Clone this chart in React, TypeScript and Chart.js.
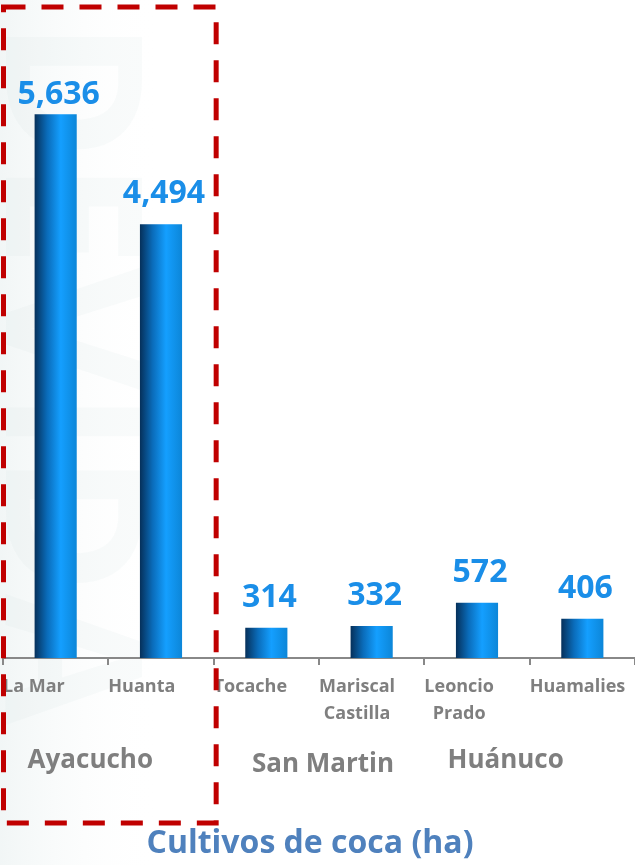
import React, { useEffect, useRef } from "react";
import { Chart, registerables } from "chart.js";

Chart.register(...registerables);

const categories: string[][] = [["La Mar"], ["Huanta"], ["Tocache"], ["Mariscal", "Castilla"], ["Leoncio", "Prado"], ["Huamalies"]];
const values: number[] = [5636, 4494, 314, 332, 572, 406];
const groupNames: string[] = ["Ayacucho", "San Martin", "Huánuco"];
const groupSpans: number[][] = [[0, 1], [2, 3], [4, 5]];
const chartTitle = "Cultivos de coca (ha)";
const yMax = 6000;

const FONT = "'Open Sans', 'Noto Sans', sans-serif";
const GRAY = "#7f7f7f";
const LABEL_BLUE = "#1a8ee8";
const TITLE_BLUE = "#4f81bd";

const decorPlugin = {
  id: "decor",
  beforeDraw(chart: any) {
    const ctx = chart.ctx;
    ctx.save();
    ctx.fillStyle = "#ffffff";
    ctx.fillRect(0, 0, chart.width, chart.height);
    // faint watermark
    const g = ctx.createLinearGradient(0, 0, 160, 0);
    g.addColorStop(0, "rgba(228,237,237,0.5)");
    g.addColorStop(1, "rgba(255,255,255,0)");
    ctx.fillStyle = g;
    ctx.fillRect(0, 0, 170, chart.height);
    ctx.translate(60, 20);
    ctx.rotate(Math.PI / 2);
    ctx.font = `bold 190px ${FONT}`;
    ctx.fillStyle = "rgba(205,222,222,0.12)";
    ctx.textBaseline = "middle";
    ctx.fillText("DEVIDA", 0, 0);
    ctx.restore();
  },
  afterDraw(chart: any) {
    const ctx = chart.ctx;
    const x = chart.scales.x;
    const area = chart.chartArea;
    const catW = (area.right - area.left) / categories.length;
    ctx.save();
    // category labels: centered blocks whose left edge sits at category boundary
    ctx.font = `bold 18px ${FONT}`;
    ctx.fillStyle = GRAY;
    ctx.textAlign = "center";
    ctx.textBaseline = "alphabetic";
    categories.forEach((lines, i) => {
      const left = x.getPixelForValue(i) - catW / 2;
      const w = Math.max(...lines.map((l) => ctx.measureText(l).width));
      const cx = Math.min(left + w / 2, chart.width - w / 2 - 8);
      lines.forEach((l, k) => ctx.fillText(l, cx, area.bottom + 34 + k * 27));
    });
    // group labels
    const offs = [-18, 4, -24];
    ctx.font = `bold 26px ${FONT}`;
    groupNames.forEach((name, gi) => {
      const [a, b] = groupSpans[gi];
      const cx = (x.getPixelForValue(a) + x.getPixelForValue(b)) / 2 + offs[gi];
      ctx.fillText(name, cx, area.bottom + 110 + (gi === 1 ? 4 : 0));
    });
    // value labels
    const meta = chart.getDatasetMeta(0);
    ctx.font = `bold 32px ${FONT}`;
    ctx.fillStyle = LABEL_BLUE;
    meta.data.forEach((bar: any, i: number) => {
      const y = Math.max(bar.y - 21, 104);
      ctx.fillText(values[i].toLocaleString("en-US"), bar.x + 3, y);
    });
    // title
    ctx.font = `bold 32px ${FONT}`;
    ctx.fillStyle = TITLE_BLUE;
    ctx.fillText(chartTitle, 310, 853);
    // red dashed box around the first group
    const l0 = x.getPixelForValue(groupSpans[0][0]) - catW / 2;
    const r0 = x.getPixelForValue(groupSpans[0][1]) + catW / 2;
    ctx.strokeStyle = "#c00000";
    ctx.lineWidth = 5;
    ctx.setLineDash([22, 16]);
    ctx.strokeRect(l0 + 0.5, 7, r0 - l0 + 2, 816);
    ctx.restore();
  },
};

export default function App() {
  const ref = useRef<HTMLCanvasElement | null>(null);
  useEffect(() => {
    if (!ref.current) return;
    const chart = new Chart(ref.current, {
      type: "bar",
      data: {
        labels: categories.map((c) => c.join(" ")),
        datasets: [
          {
            data: values,
            barPercentage: 0.4,
            categoryPercentage: 1,
            backgroundColor: (c: any) => {
              const ch = c.chart;
              const area = ch.chartArea;
              if (!area || !ch.scales.x) return "#1090e0";
              const catW = (area.right - area.left) / categories.length;
              const w = catW * 0.4;
              const cx = ch.scales.x.getPixelForValue(c.dataIndex);
              const g = ch.ctx.createLinearGradient(cx - w / 2, 0, cx + w / 2, 0);
              g.addColorStop(0, "#06305a");
              g.addColorStop(0.3, "#0a6cba");
              g.addColorStop(0.62, "#149fff");
              g.addColorStop(1, "#0c86d8");
              return g;
            },
            borderWidth: 0,
          },
        ],
      },
      options: {
        animation: false,
        responsive: false,
        maintainAspectRatio: false,
        layout: { padding: { top: 79, left: 3, right: 0, bottom: 200 } },
        plugins: { legend: { display: false }, tooltip: { enabled: false }, title: { display: false } },
        scales: {
          x: {
            offset: true,
            grid: { offset: true, drawOnChartArea: false, drawTicks: true, tickLength: 7, color: "#888888", lineWidth: 2 },
            border: { display: true, color: "#888888", width: 2 },
            ticks: { display: false },
          },
          y: { display: false, min: 0, max: yMax },
        },
      },
      plugins: [decorPlugin],
    });
    return () => chart.destroy();
  }, []);
  return (
    <div style={{ position: "absolute", left: 0, top: 0, width: 635, height: 865 }}>
      <canvas ref={ref} width={635} height={865} />
    </div>
  );
}
